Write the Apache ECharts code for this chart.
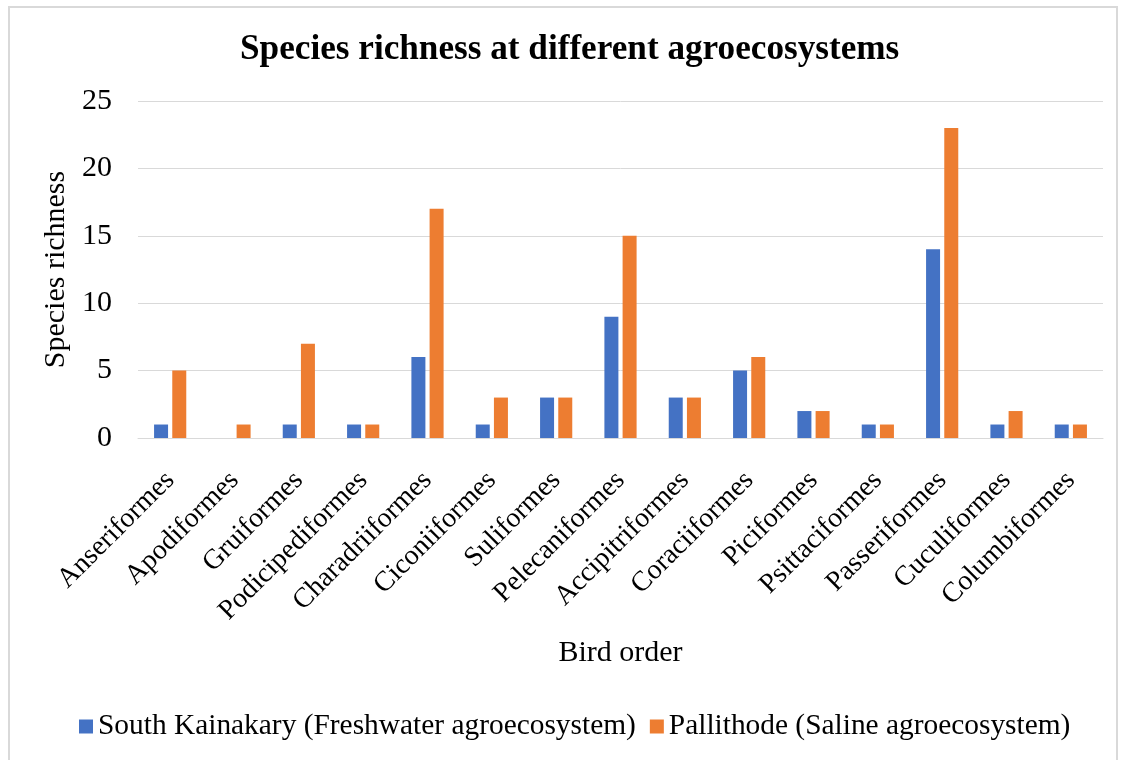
<!DOCTYPE html>
<html>
<head>
<meta charset="utf-8">
<script src="https://cdn.jsdelivr.net/npm/echarts@6/dist/echarts.min.js"></script>
<style>
  html, body { margin: 0; padding: 0; background: #fff; }
  #frame { position: absolute; left: 8px; top: 6px; width: 1110px; height: 770px; border: 2px solid #d9d9d9; box-sizing: border-box; }
  #main { position: absolute; left: 0; top: 0; width: 1123px; height: 760px; }
</style>
</head>
<body>
<div id="frame"></div>
<div id="main"></div>
<script>
// 鸟类目及两地物种丰富度
var birdOrders = ['Anseriformes', 'Apodiformes', 'Gruiformes', 'Podicipediformes', 'Charadriiformes',
    'Ciconiiformes', 'Suliformes', 'Pelecaniformes', 'Accipitriformes', 'Coraciiformes',
    'Piciformes', 'Psittaciformes', 'Passeriformes', 'Cuculiformes', 'Columbiformes'];
var southKainakary = [1, 0, 1, 1, 6, 1, 3, 9, 3, 5, 2, 1, 14, 1, 1];
var pallithode = [5, 1, 7, 1, 17, 3, 3, 15, 3, 6, 2, 1, 23, 2, 1];
var seriesNames = ['South Kainakary (Freshwater agroecosystem)', 'Pallithode (Saline agroecosystem)'];

var font = '"Liberation Serif", "Times New Roman", serif';
var myChart = echarts.init(document.getElementById('main'));
var option = {
    title: {
        text: 'Species richness at different agroecosystems',
        left: 235,
        top: 27,
        textStyle: { fontFamily: font, fontSize: 35.2, fontWeight: 'bold', color: '#000' }
    },
    legend: {
        data: seriesNames,
        bottom: 14,
        left: 74,
        icon: 'rect',
        itemWidth: 14,
        itemHeight: 14,
        itemGap: 14,
        textStyle: { fontFamily: font, fontSize: 29.4, color: '#000' }
    },
    grid: { left: 138, right: 20, top: 101, bottom: 322, containLabel: false },
    xAxis: {
        type: 'category',
        data: birdOrders,
        name: 'Bird order',
        nameLocation: 'middle',
        nameGap: 200,
        nameTextStyle: { fontFamily: font, fontSize: 30, color: '#000' },
        axisLine: { lineStyle: { color: '#d9d9d9', width: 1 } },
        axisTick: { show: false },
        axisLabel: { rotate: 45, interval: 0, margin: 38, fontFamily: font, fontSize: 28, color: '#000' }
    },
    yAxis: {
        type: 'value',
        min: 0, max: 25, interval: 5,
        name: 'Species richness',
        nameLocation: 'middle',
        nameGap: 54,
        nameTextStyle: { fontFamily: font, fontSize: 30, color: '#000' },
        axisLine: { show: false },
        axisTick: { show: false },
        splitLine: { lineStyle: { color: '#d9d9d9', width: 1 } },
        axisLabel: { margin: 26, fontFamily: font, fontSize: 30, color: '#000' }
    },
    series: [
        { name: seriesNames[0], type: 'bar', data: southKainakary, barWidth: 14, barGap: '30%',
          itemStyle: { color: '#4472c4' } },
        { name: seriesNames[1], type: 'bar', data: pallithode, barWidth: 14, barGap: '30%',
          itemStyle: { color: '#ed7d31' } }
    ]
};
myChart.setOption(option);
</script>
</body>
</html>
